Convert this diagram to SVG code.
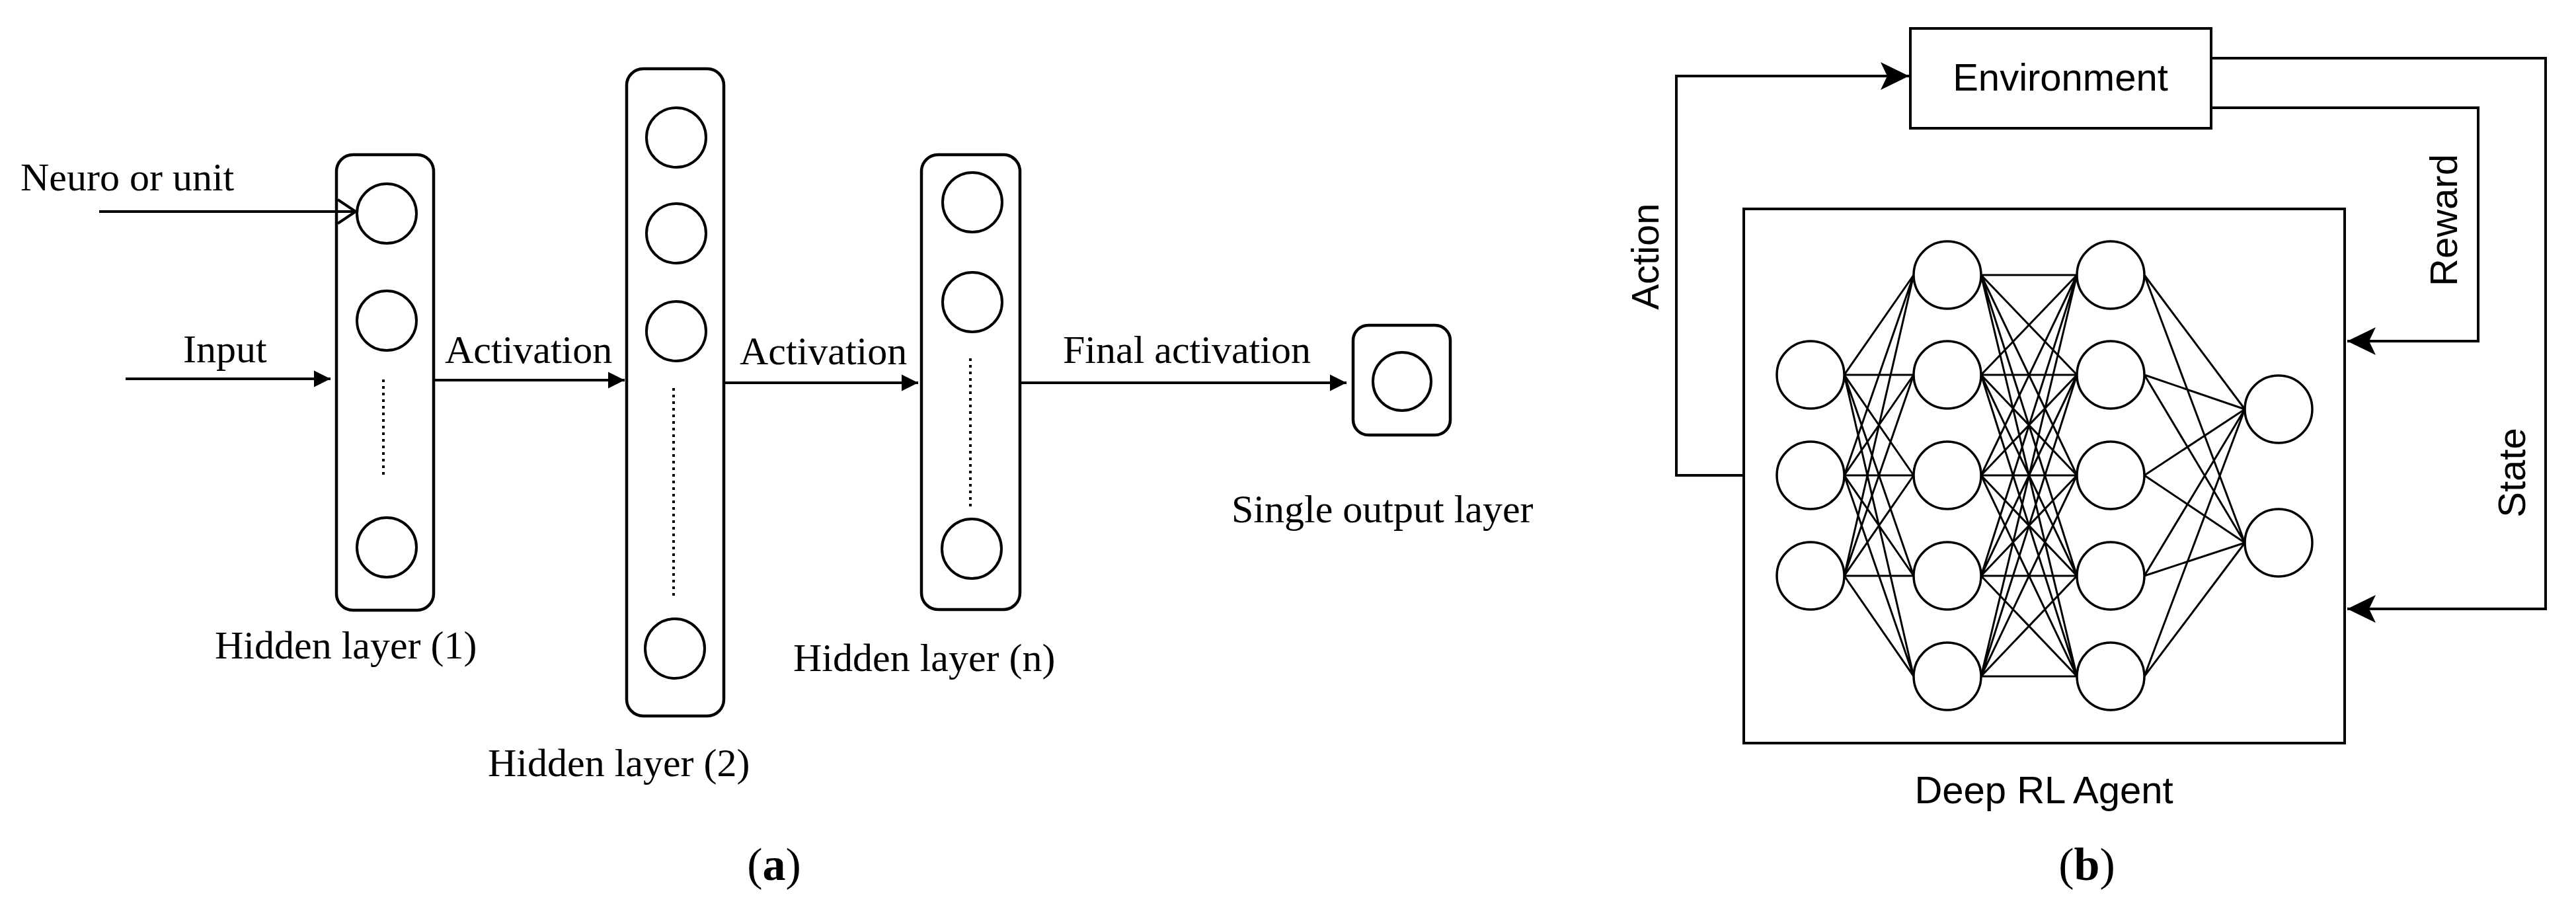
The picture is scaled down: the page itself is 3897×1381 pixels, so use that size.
<svg xmlns="http://www.w3.org/2000/svg" width="3897" height="1381" viewBox="0 0 3897 1381">
<style>
.bg{fill:#fff}
.lbox{fill:none;stroke:#000;stroke-width:4.5}
.lc{fill:none;stroke:#000;stroke-width:4}
.dot{stroke:#000;stroke-width:4;stroke-dasharray:4 6;fill:none}
.ln{stroke:#000;stroke-width:4;fill:none}
.rbox{fill:none;stroke:#000;stroke-width:4}
.nc{fill:#fff;stroke:#000;stroke-width:3.5}
.edge{stroke:#000;stroke-width:3;fill:none}
.serif{font-family:"Liberation Serif","Times New Roman",serif;font-size:60px;fill:#000}
.sans{font-family:"Liberation Sans",Arial,sans-serif;font-size:58px;fill:#000}
.cap{font-family:"Liberation Serif","Times New Roman",serif;font-size:70px;fill:#000}
</style>
<defs>
<marker id="tri" viewBox="-27 -15 29 30" refX="0" refY="0" markerWidth="29" markerHeight="30" orient="auto" markerUnits="userSpaceOnUse">
<path d="M0,0 L-25,-12.5 L-25,12.5 Z" fill="#000"/>
</marker>
<marker id="stealth" viewBox="-46 -24 48 48" refX="0" refY="0" markerWidth="48" markerHeight="48" orient="auto" markerUnits="userSpaceOnUse">
<path d="M0,0 L-43,-21 L-33,0 L-43,21 Z" fill="#000"/>
</marker>
</defs>
<rect class="bg" x="0" y="0" width="3897" height="1381"/>

<!-- ===== Panel (a) ===== -->
<g id="hidden1">
<rect class="lbox" x="509" y="234" width="147" height="689" rx="25" ry="25"/>
<circle class="lc" cx="585" cy="323" r="45"/>
<circle class="lc" cx="585" cy="485" r="45"/>
<line class="dot" x1="580" y1="574" x2="580" y2="722"/>
<circle class="lc" cx="585" cy="828" r="45"/>
</g>
<g id="hidden2">
<rect class="lbox" x="948" y="104" width="147" height="979" rx="25" ry="25"/>
<circle class="lc" cx="1023" cy="208" r="45"/>
<circle class="lc" cx="1023" cy="353" r="45"/>
<circle class="lc" cx="1023" cy="501" r="45"/>
<line class="dot" x1="1019" y1="587" x2="1019" y2="904"/>
<circle class="lc" cx="1021" cy="981" r="45"/>
</g>
<g id="hiddenN">
<rect class="lbox" x="1394" y="234" width="149" height="688" rx="25" ry="25"/>
<circle class="lc" cx="1471" cy="306" r="45"/>
<circle class="lc" cx="1471" cy="457" r="45"/>
<line class="dot" x1="1468" y1="542" x2="1468" y2="767"/>
<circle class="lc" cx="1470" cy="830" r="45"/>
</g>
<g id="output">
<rect class="lbox" x="2047" y="492" width="147" height="166" rx="23" ry="23"/>
<circle class="lc" cx="2121" cy="577" r="44"/>
</g>

<g id="connectors-a">
<line class="ln" x1="150" y1="320" x2="536" y2="320"/>
<polyline class="ln" points="511,302 538,320 511,338"/>
<line class="ln" x1="190" y1="573" x2="500" y2="573" marker-end="url(#tri)"/>
<line class="ln" x1="656" y1="575" x2="945" y2="575" marker-end="url(#tri)"/>
<line class="ln" x1="1095" y1="579" x2="1389" y2="579" marker-end="url(#tri)"/>
<line class="ln" x1="1543" y1="579" x2="2037" y2="579" marker-end="url(#tri)"/>
</g>

<g id="labels-a">
<text class="serif" x="31" y="288">Neuro or unit</text>
<text class="serif" x="277" y="548">Input</text>
<text class="serif" x="673" y="549">Activation</text>
<text class="serif" x="1119" y="551">Activation</text>
<text class="serif" x="1608" y="549">Final activation</text>
<text class="serif" x="325" y="996">Hidden layer (1)</text>
<text class="serif" x="738" y="1174">Hidden layer (2)</text>
<text class="serif" x="1200" y="1015">Hidden layer (n)</text>
<text class="serif" x="1863" y="790">Single output layer</text>
<text class="cap" x="1171" y="1331" text-anchor="middle">(<tspan font-weight="bold">a</tspan>)</text>
</g>

<!-- ===== Panel (b) ===== -->
<g id="environment">
<rect class="rbox" x="2890" y="43" width="455" height="151"/>
<text class="sans" x="3117" y="137" text-anchor="middle">Environment</text>
</g>
<g id="agent">
<rect class="rbox" x="2638" y="316" width="909" height="808"/>
<text class="sans" x="3092" y="1215" text-anchor="middle">Deep RL Agent</text>
</g>

<g id="nn-edges">
<!-- layer1 -> layer2 -->
<path class="edge" d="M2790,567L2895,416M2790,567L2895,567M2790,567L2895,719M2790,567L2895,871M2790,567L2895,1023
M2790,719L2895,416M2790,719L2895,567M2790,719L2895,719M2790,719L2895,871M2790,719L2895,1023
M2790,871L2895,416M2790,871L2895,567M2790,871L2895,719M2790,871L2895,871M2790,871L2895,1023"/>
<!-- layer2 -> layer3 -->
<path class="edge" d="M2997,416L3142,416M2997,416L3142,567M2997,416L3142,719M2997,416L3142,871M2997,416L3142,1023
M2997,567L3142,416M2997,567L3142,567M2997,567L3142,719M2997,567L3142,871M2997,567L3142,1023
M2997,719L3142,416M2997,719L3142,567M2997,719L3142,719M2997,719L3142,871M2997,719L3142,1023
M2997,871L3142,416M2997,871L3142,567M2997,871L3142,719M2997,871L3142,871M2997,871L3142,1023
M2997,1023L3142,416M2997,1023L3142,567M2997,1023L3142,719M2997,1023L3142,871M2997,1023L3142,1023"/>
<!-- layer3 -> layer4 -->
<path class="edge" d="M3244,416L3396,619M3244,567L3396,619M3244,719L3396,619M3244,871L3396,619M3244,1023L3396,619
M3244,416L3396,821M3244,567L3396,821M3244,719L3396,821M3244,871L3396,821M3244,1023L3396,821"/>
</g>

<g id="n1-1"><circle class="nc" cx="2739" cy="567" r="51"/></g>
<g id="n1-2"><circle class="nc" cx="2739" cy="719" r="51"/></g>
<g id="n1-3"><circle class="nc" cx="2739" cy="871" r="51"/></g>
<g id="n2-1"><circle class="nc" cx="2946" cy="416" r="51"/></g>
<g id="n2-2"><circle class="nc" cx="2946" cy="567" r="51"/></g>
<g id="n2-3"><circle class="nc" cx="2946" cy="719" r="51"/></g>
<g id="n2-4"><circle class="nc" cx="2946" cy="871" r="51"/></g>
<g id="n2-5"><circle class="nc" cx="2946" cy="1023" r="51"/></g>
<g id="n3-1"><circle class="nc" cx="3193" cy="416" r="51"/></g>
<g id="n3-2"><circle class="nc" cx="3193" cy="567" r="51"/></g>
<g id="n3-3"><circle class="nc" cx="3193" cy="719" r="51"/></g>
<g id="n3-4"><circle class="nc" cx="3193" cy="871" r="51"/></g>
<g id="n3-5"><circle class="nc" cx="3193" cy="1023" r="51"/></g>
<g id="n4-1"><circle class="nc" cx="3447" cy="619" r="51"/></g>
<g id="n4-2"><circle class="nc" cx="3447" cy="821" r="51"/></g>

<g id="connectors-b">
<polyline class="ln" points="2638,719 2536,719 2536,115 2888,115" marker-end="url(#stealth)"/>
<polyline class="ln" points="3345,163 3749,163 3749,516 3551,516" marker-end="url(#stealth)"/>
<polyline class="ln" points="3345,88 3851,88 3851,921 3551,921" marker-end="url(#stealth)"/>
</g>

<g id="labels-b">
<text class="sans" transform="translate(2509,388) rotate(-90)" text-anchor="middle">Action</text>
<text class="sans" transform="translate(3717,333) rotate(-90)" text-anchor="middle">Reward</text>
<text class="sans" transform="translate(3820,715) rotate(-90)" text-anchor="middle">State</text>
<text class="cap" x="3157" y="1331" text-anchor="middle">(<tspan font-weight="bold">b</tspan>)</text>
</g>
</svg>
